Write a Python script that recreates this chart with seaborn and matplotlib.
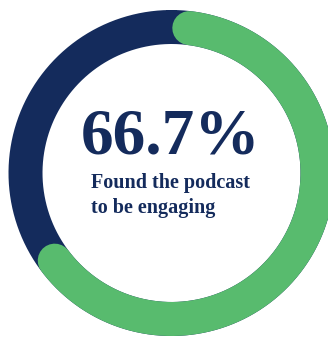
import numpy as np
import matplotlib
matplotlib.use("Agg")
import matplotlib.pyplot as plt
import seaborn as sns

# data
labels = ["Engaging", "Not engaging"]
values = [66.7, 33.3]
headline = "66.7%"
caption_lines = ["Found the podcast", "to be engaging"]

sns.set_theme(style="white")
plt.rcParams['font.family'] = ['Liberation Serif', 'DejaVu Serif']

NAVY = "#142b5c"
GREEN = "#58bb6e"

W, H = 328, 337
fig = plt.figure(figsize=(W / 100, H / 100), dpi=100)
ax = fig.add_axes([0, 0, 1, 1])
ax.set_xlim(0, W)
ax.set_ylim(H, 0)
ax.set_aspect("equal")
ax.axis("off")

cx, cy = 171.5, 173
r_mid = 146
ring_px = 34
lw = ring_px * 72 / 100

# navy full ring
t = np.linspace(0, 2 * np.pi, 500)
ax.plot(cx + r_mid * np.sin(t), cy - r_mid * np.cos(t), color=NAVY, lw=lw,
        solid_capstyle="round", solid_joinstyle="round")

# green arc with rounded ends
share = values[0] / sum(values)
start = np.deg2rad(7)
end = start + share * 2 * np.pi - np.deg2rad(14)
t = np.linspace(start, end, 400)
ax.plot(cx + r_mid * np.sin(t), cy - r_mid * np.cos(t), color=GREEN, lw=lw, solid_capstyle="round")

ax.text(171, 137, headline, ha="center", va="center", fontsize=47, fontweight="bold", color=NAVY)
ax.text(91, 183, caption_lines[0], ha="left", va="center", fontsize=14.5, fontweight="bold", color=NAVY)
ax.text(91, 208, caption_lines[1], ha="left", va="center", fontsize=14.5, fontweight="bold", color=NAVY)

fig.savefig("out.png", dpi=100)
